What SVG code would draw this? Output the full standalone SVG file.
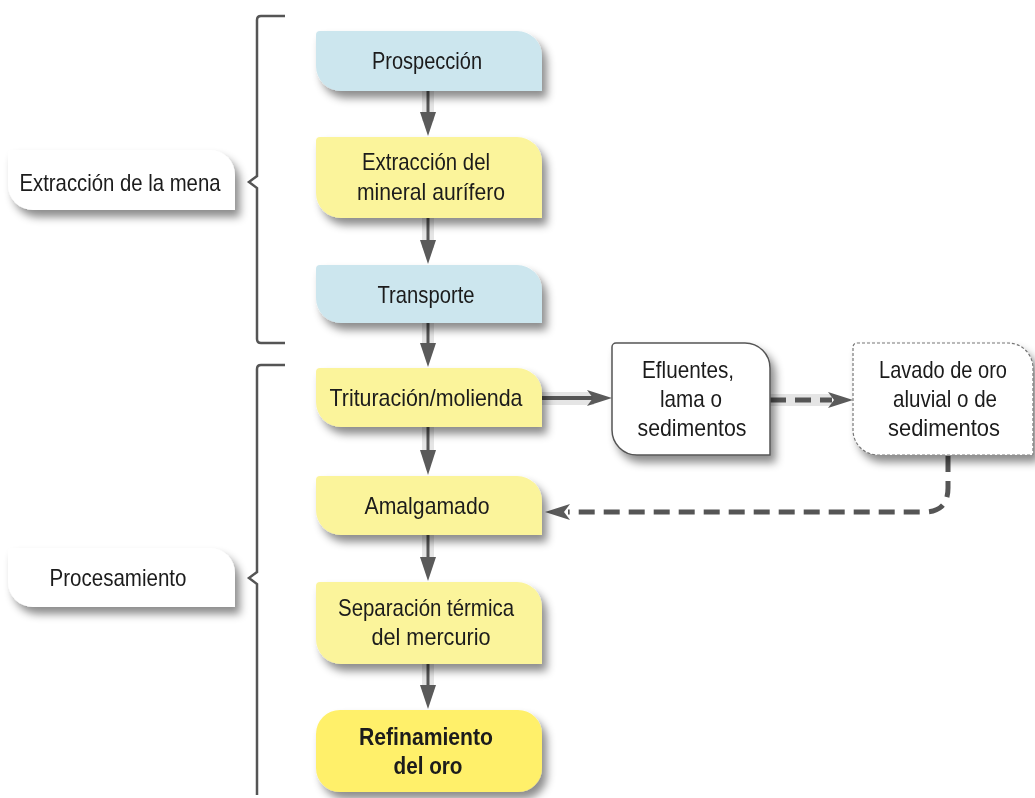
<svg xmlns="http://www.w3.org/2000/svg" width="1035" height="798" viewBox="0 0 1035 798">
<style>
text{font-family:"Liberation Sans Narrow","Liberation Sans",sans-serif;font-size:24px;fill:#1a1a1a;text-anchor:middle}
.b{font-weight:bold}
.blue{fill:#cce6ee}
.yel{fill:#fbf49b}
.yel2{fill:#fff06a}
.wh{fill:#fff}
.brk{fill:none;stroke:#555;stroke-width:2.5}
.shaft{fill:#dedede;opacity:.8}
.line{stroke:#555;stroke-width:3;fill:none}
.dash{stroke:#555;stroke-width:5;fill:none;stroke-dasharray:16 9}
.head{fill:#5a5a5a}
</style>
<defs>
<filter id="sh" x="-20%" y="-30%" width="150%" height="170%">
<feDropShadow dx="5" dy="7" stdDeviation="4" flood-color="#000" flood-opacity="0.45"/>
</filter>
</defs>

<g id="brackets">
<path class="brk" d="M285,16 H261 Q257,16 257,20 V176 L249,182 L257,188 V339 Q257,343 261,343 H285"/>
<path class="brk" d="M285,365 H261 Q257,365 257,369 V572 L249,578 L257,584 V795"/>
</g>

<g id="connectors">
<g id="c1"><rect class="shaft" x="422" y="91" width="12" height="30"/><line class="line" x1="428" y1="91" x2="428" y2="118"/><path class="head" d="M420,112 L436,112 L428,136 Z"/></g>
<g id="c2"><rect class="shaft" x="422" y="218" width="12" height="30"/><line class="line" x1="428" y1="218" x2="428" y2="246"/><path class="head" d="M420,240 L436,240 L428,264 Z"/></g>
<g id="c3"><rect class="shaft" x="422" y="323" width="12" height="26"/><line class="line" x1="428" y1="323" x2="428" y2="349"/><path class="head" d="M420,343 L436,343 L428,367 Z"/></g>
<g id="c4"><rect class="shaft" x="422" y="427" width="12" height="30"/><line class="line" x1="428" y1="427" x2="428" y2="456"/><path class="head" d="M420,450 L436,450 L428,475 Z"/></g>
<g id="c5"><rect class="shaft" x="422" y="535" width="12" height="28"/><line class="line" x1="428" y1="535" x2="428" y2="562"/><path class="head" d="M420,557 L436,557 L428,581 Z"/></g>
<g id="c6"><rect class="shaft" x="422" y="664" width="12" height="28"/><line class="line" x1="428" y1="664" x2="428" y2="690"/><path class="head" d="M420,685 L436,685 L428,709 Z"/></g>
<g id="c7"><rect class="shaft" x="542" y="392" width="52" height="13"/><line x1="542" y1="398" x2="594" y2="398" stroke="#555" stroke-width="4"/><path class="head" d="M587,390 L612,398 L587,406 L593,398 Z"/></g>
<g id="c8"><rect class="shaft" x="770" y="394" width="62" height="12"/><line class="dash" x1="770" y1="400" x2="832" y2="400"/><path class="head" d="M828,392 L853,400 L828,408 L834,400 Z"/></g>
<g id="c9"><path class="dash" d="M948,456 V488 Q948,512 924,512 H568"/><path class="head" d="M570,504 L545,512 L570,520 L564,512 Z"/></g>
</g>

<g id="n-extraccion-mena" filter="url(#sh)"><path class="wh" d="M12,150 H210 A25 25 0 0 1 235,175 V210 H33 A25 25 0 0 1 8,185 V154 A4 4 0 0 1 12,150 Z"/><text x="120" y="191" textLength="201" lengthAdjust="spacingAndGlyphs">Extracción de la mena</text></g>
<g id="n-procesamiento" filter="url(#sh)"><path class="wh" d="M12,548 H210 A25 25 0 0 1 235,573 V607 H33 A25 25 0 0 1 8,582 V552 A4 4 0 0 1 12,548 Z"/><text x="118" y="586" textLength="137" lengthAdjust="spacingAndGlyphs">Procesamiento</text></g>

<g id="n-prospeccion" filter="url(#sh)"><path class="blue" d="M320,31 H517 A25 25 0 0 1 542,56 V91 H341 A25 25 0 0 1 316,66 V35 A4 4 0 0 1 320,31 Z"/><text x="427" y="69" textLength="110" lengthAdjust="spacingAndGlyphs">Prospección</text></g>
<g id="n-extraccion" filter="url(#sh)"><path class="yel" d="M320,137 H517 A25 25 0 0 1 542,162 V218 H341 A25 25 0 0 1 316,193 V141 A4 4 0 0 1 320,137 Z"/><text x="426" y="170" textLength="128" lengthAdjust="spacingAndGlyphs">Extracción del</text><text x="431" y="200" textLength="148" lengthAdjust="spacingAndGlyphs">mineral aurífero</text></g>
<g id="n-transporte" filter="url(#sh)"><path class="blue" d="M320,265 H517 A25 25 0 0 1 542,290 V323 H341 A25 25 0 0 1 316,298 V269 A4 4 0 0 1 320,265 Z"/><text x="426" y="303" textLength="97" lengthAdjust="spacingAndGlyphs">Transporte</text></g>
<g id="n-trituracion" filter="url(#sh)"><path class="yel" d="M320,368 H517 A25 25 0 0 1 542,393 V427 H341 A25 25 0 0 1 316,402 V372 A4 4 0 0 1 320,368 Z"/><text x="426" y="406" textLength="193" lengthAdjust="spacingAndGlyphs">Trituración/molienda</text></g>
<g id="n-amalgamado" filter="url(#sh)"><path class="yel" d="M320,476 H517 A25 25 0 0 1 542,501 V535 H341 A25 25 0 0 1 316,510 V480 A4 4 0 0 1 320,476 Z"/><text x="427" y="514" textLength="125" lengthAdjust="spacingAndGlyphs">Amalgamado</text></g>
<g id="n-separacion" filter="url(#sh)"><path class="yel" d="M320,582 H517 A25 25 0 0 1 542,607 V664 H341 A25 25 0 0 1 316,639 V586 A4 4 0 0 1 320,582 Z"/><text x="426" y="616" textLength="176" lengthAdjust="spacingAndGlyphs">Separación térmica</text><text x="431" y="645" textLength="119" lengthAdjust="spacingAndGlyphs">del mercurio</text></g>
<g id="n-refinamiento" filter="url(#sh)"><rect class="yel2" x="316" y="710" width="226" height="82" rx="24"/><text class="b" x="426" y="745" textLength="134" lengthAdjust="spacingAndGlyphs">Refinamiento</text><text class="b" x="428" y="774" textLength="69" lengthAdjust="spacingAndGlyphs">del oro</text></g>

<g id="n-efluentes" filter="url(#sh)"><path class="wh" stroke="#555" stroke-width="1.5" d="M616,343 H745 A25 25 0 0 1 770,368 V455 H637 A25 25 0 0 1 612,430 V347 A4 4 0 0 1 616,343 Z"/><text x="688" y="378" textLength="92" lengthAdjust="spacingAndGlyphs">Efluentes,</text><text x="691" y="407" textLength="62" lengthAdjust="spacingAndGlyphs">lama o</text><text x="692" y="436" textLength="109" lengthAdjust="spacingAndGlyphs">sedimentos</text></g>
<g id="n-lavado" filter="url(#sh)"><path class="wh" stroke="#777" stroke-width="1.2" stroke-dasharray="3 2" d="M857,343 H1008 A25 25 0 0 1 1033,368 V455 H878 A25 25 0 0 1 853,430 V347 A4 4 0 0 1 857,343 Z"/><text x="943" y="378" textLength="128" lengthAdjust="spacingAndGlyphs">Lavado de oro</text><text x="945" y="407" textLength="104" lengthAdjust="spacingAndGlyphs">aluvial o de</text><text x="944" y="436" textLength="112" lengthAdjust="spacingAndGlyphs">sedimentos</text></g>
</svg>
